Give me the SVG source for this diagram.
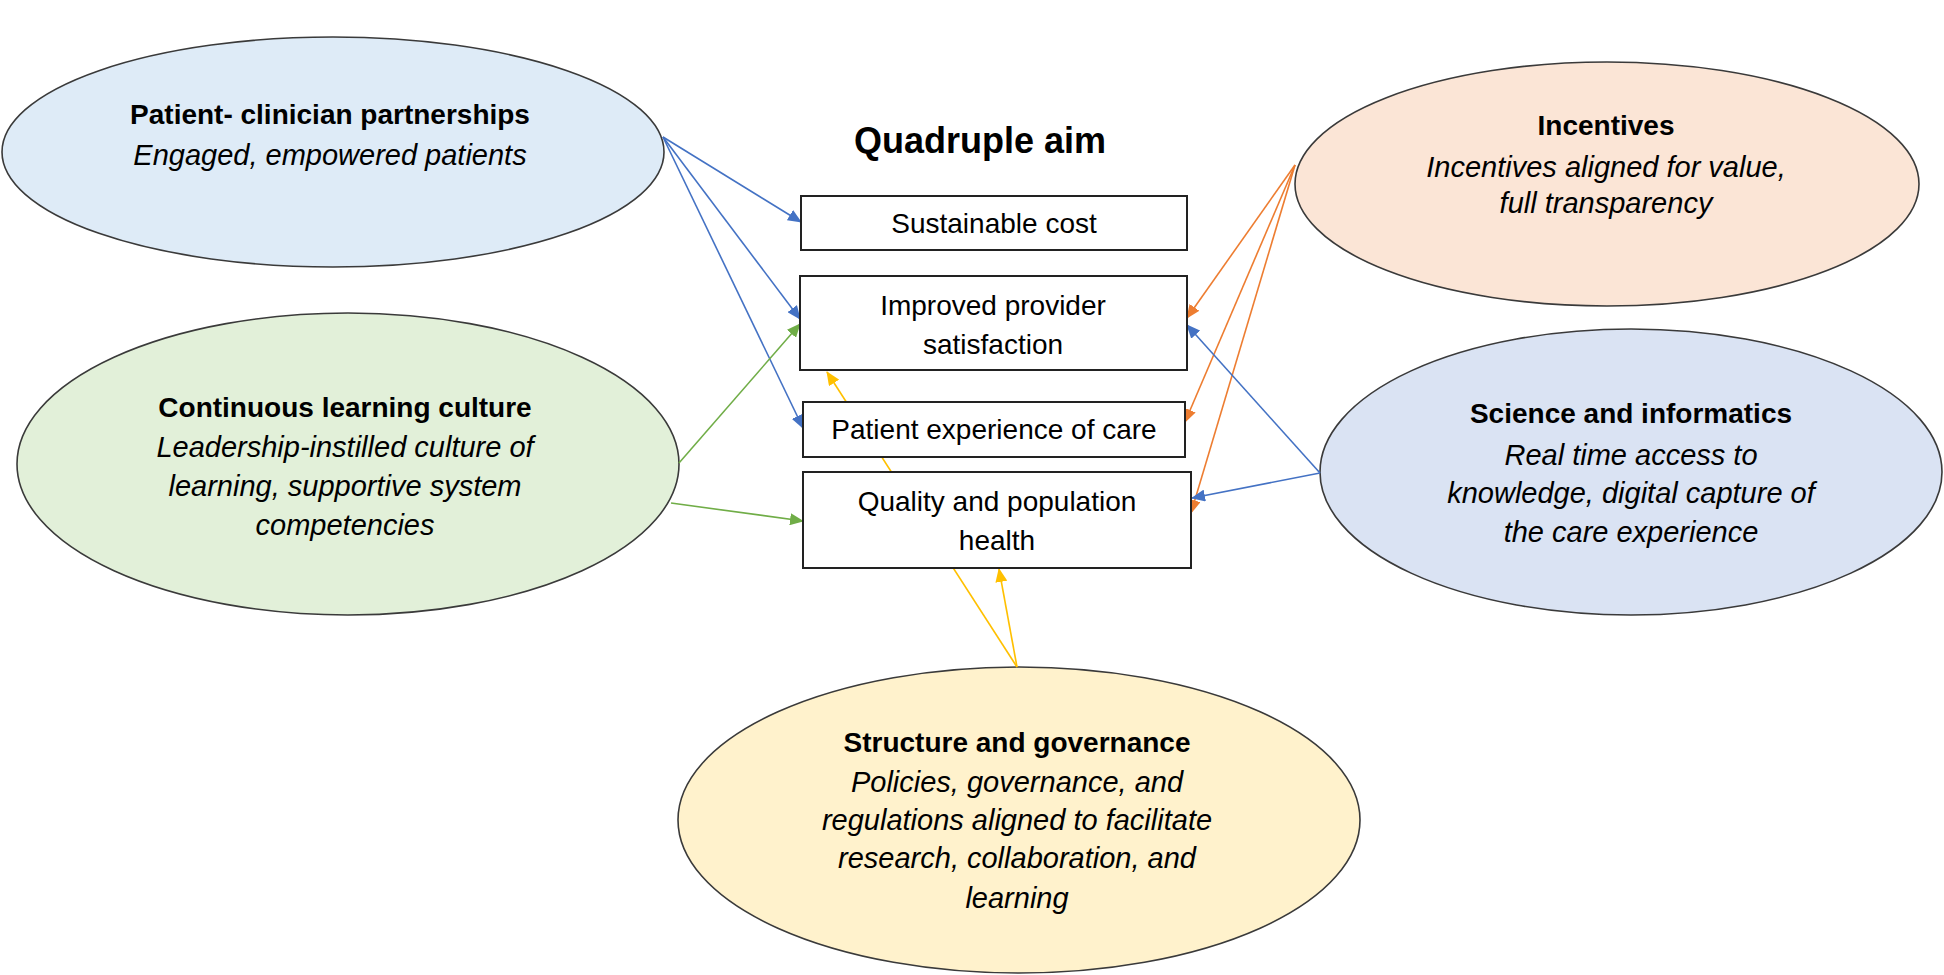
<svg xmlns="http://www.w3.org/2000/svg" width="1944" height="975" viewBox="0 0 1944 975">
<style>
.ell{stroke:#3a3a3a;stroke-width:1.6}
.box{fill:#fff;stroke:#222;stroke-width:2}
.b{font-family:"Liberation Sans",Arial,sans-serif;font-weight:bold;font-size:28px;fill:#000;text-anchor:middle}
.i{font-family:"Liberation Sans",Arial,sans-serif;font-style:italic;font-size:29px;fill:#000;text-anchor:middle}
.t{font-family:"Liberation Sans",Arial,sans-serif;font-size:28px;fill:#000;text-anchor:middle}
.title{font-family:"Liberation Sans",Arial,sans-serif;font-weight:bold;font-size:36px;fill:#000;text-anchor:middle}
.c{fill:none;stroke-width:1.6}
</style>
<defs>
<marker id="ab" markerUnits="userSpaceOnUse" markerWidth="14" markerHeight="12" refX="13" refY="6" orient="auto"><path d="M0,0 L14,6 L0,12 Z" fill="#4472C4"/></marker>
<marker id="ao" markerUnits="userSpaceOnUse" markerWidth="14" markerHeight="12" refX="13" refY="6" orient="auto"><path d="M0,0 L14,6 L0,12 Z" fill="#ED7D31"/></marker>
<marker id="ag" markerUnits="userSpaceOnUse" markerWidth="14" markerHeight="12" refX="13" refY="6" orient="auto"><path d="M0,0 L14,6 L0,12 Z" fill="#70AD47"/></marker>
<marker id="ay" markerUnits="userSpaceOnUse" markerWidth="14" markerHeight="12" refX="13" refY="6" orient="auto"><path d="M0,0 L14,6 L0,12 Z" fill="#FFC000"/></marker>
</defs>
<rect width="1944" height="975" fill="#fff"/>

<g id="patient-clinician">
<ellipse class="ell" cx="333" cy="152" rx="331" ry="115" fill="#DEEBF7"/>
<text class="b" x="330" y="124">Patient- clinician partnerships</text>
<text class="i" x="330" y="165">Engaged, empowered patients</text>
</g>
<g id="continuous-learning">
<ellipse class="ell" cx="348" cy="464" rx="331" ry="151" fill="#E2F0D9"/>
<text class="b" x="345" y="417">Continuous learning culture</text>
<text class="i" x="345" y="457">Leadership-instilled culture of</text>
<text class="i" x="345" y="496">learning, supportive system</text>
<text class="i" x="345" y="535">competencies</text>
</g>
<g id="incentives">
<ellipse class="ell" cx="1607" cy="184" rx="312" ry="122" fill="#FBE5D6"/>
<text class="b" x="1606" y="135">Incentives</text>
<text class="i" x="1606" y="177">Incentives aligned for value,</text>
<text class="i" x="1606" y="213">full transparency</text>
</g>
<g id="science-informatics">
<ellipse class="ell" cx="1631" cy="472" rx="311" ry="143" fill="#DAE3F3"/>
<text class="b" x="1631" y="423">Science and informatics</text>
<text class="i" x="1631" y="465">Real time access to</text>
<text class="i" x="1631" y="503">knowledge, digital capture of</text>
<text class="i" x="1631" y="542">the care experience</text>
</g>
<g id="structure-governance">
<ellipse class="ell" cx="1019" cy="820" rx="341" ry="153" fill="#FFF2CC"/>
<text class="b" x="1017" y="752">Structure and governance</text>
<text class="i" x="1017" y="792">Policies, governance, and</text>
<text class="i" x="1017" y="830">regulations aligned to facilitate</text>
<text class="i" x="1017" y="868">research, collaboration, and</text>
<text class="i" x="1017" y="908">learning</text>
</g>

<g id="connectors">
<line class="c" stroke="#4472C4" x1="663" y1="137" x2="801" y2="222" marker-end="url(#ab)"/>
<line class="c" stroke="#4472C4" x1="663" y1="137" x2="800" y2="319" marker-end="url(#ab)"/>
<line class="c" stroke="#4472C4" x1="663" y1="137" x2="803" y2="428" marker-end="url(#ab)"/>
<line class="c" stroke="#70AD47" x1="679" y1="463" x2="800" y2="324" marker-end="url(#ag)"/>
<line class="c" stroke="#70AD47" x1="671" y1="503" x2="803" y2="521" marker-end="url(#ag)"/>
<line class="c" stroke="#ED7D31" x1="1295" y1="165" x2="1187" y2="318" marker-end="url(#ao)"/>
<line class="c" stroke="#ED7D31" x1="1295" y1="165" x2="1185" y2="422" marker-end="url(#ao)"/>
<line class="c" stroke="#ED7D31" x1="1295" y1="165" x2="1191" y2="513" marker-end="url(#ao)"/>
<line class="c" stroke="#4472C4" x1="1320" y1="473" x2="1187" y2="325" marker-end="url(#ab)"/>
<line class="c" stroke="#4472C4" x1="1320" y1="473" x2="1192" y2="498" marker-end="url(#ab)"/>
<line class="c" stroke="#FFC000" x1="1017" y1="667" x2="999" y2="569" marker-end="url(#ay)"/>
<line class="c" stroke="#FFC000" x1="1017" y1="667" x2="827" y2="372" marker-end="url(#ay)"/>
</g>

<g id="title">
<text class="title" x="980" y="153">Quadruple aim</text>
</g>
<g id="sustainable-cost">
<rect class="box" x="801" y="196" width="386" height="54"/>
<text class="t" x="994" y="233">Sustainable cost</text>
</g>
<g id="provider-satisfaction">
<rect class="box" x="800" y="276" width="387" height="94"/>
<text class="t" x="993" y="315">Improved provider</text>
<text class="t" x="993" y="354">satisfaction</text>
</g>
<g id="patient-experience">
<rect class="box" x="803" y="402" width="382" height="55"/>
<text class="t" x="994" y="439">Patient experience of care</text>
</g>
<g id="quality-health">
<rect class="box" x="803" y="472" width="388" height="96"/>
<text class="t" x="997" y="511">Quality and population</text>
<text class="t" x="997" y="550">health</text>
</g>
</svg>
